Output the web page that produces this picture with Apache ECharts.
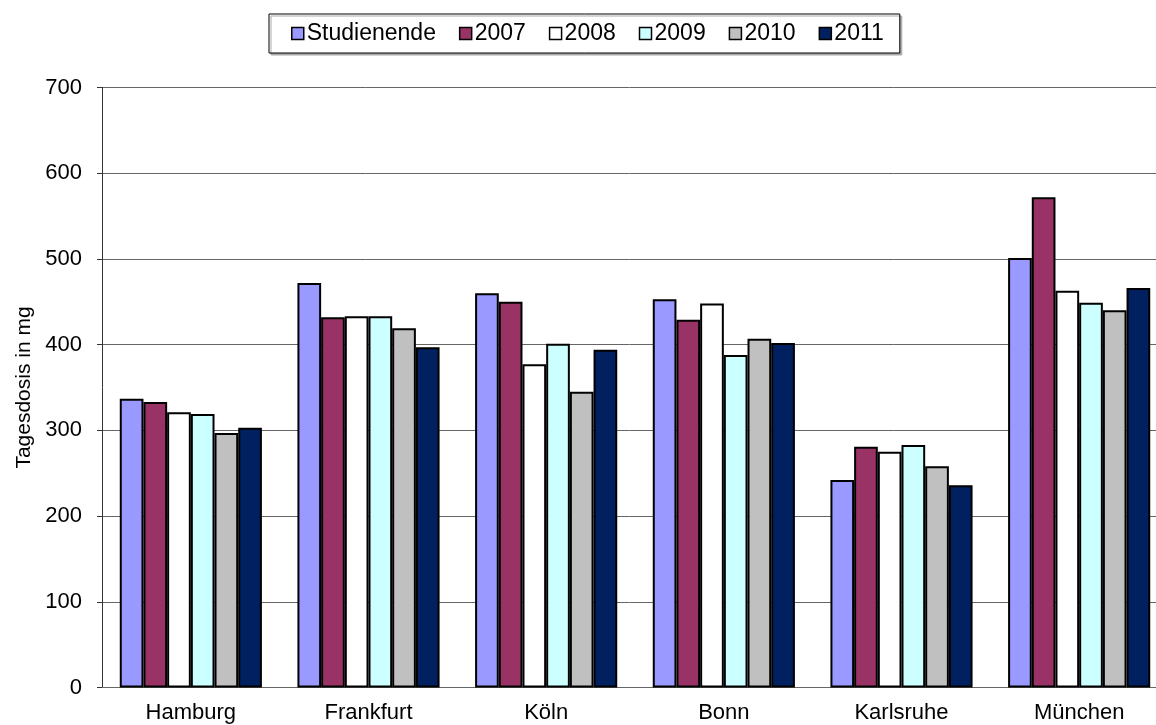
<!DOCTYPE html>
<html>
<head>
<meta charset="utf-8">
<title>Tagesdosis</title>
<style>
    html,body{margin:0;padding:0;background:#fff;}
    #main{width:1156px;height:725px;}
</style>
</head>
<body>
<div id="main"></div>
<script src="https://cdn.jsdelivr.net/npm/echarts@6/dist/echarts.min.js"></script>
<script>
    // Daten
    var staedte = ['Hamburg', 'Frankfurt', 'Köln', 'Bonn', 'Karlsruhe', 'München'];
    var studienende = [337, 472, 460, 453, 242, 501];
    var j2007 = [333, 432, 450, 429, 281, 572];
    var j2008 = [321, 433, 377, 448, 275, 463];
    var j2009 = [319, 433, 401, 388, 283, 449];
    var j2010 = [297, 419, 345, 407, 258, 440];
    var j2011 = [303, 397, 394, 402, 236, 466];

    var myChart = echarts.init(document.getElementById('main'));

    function bar(name, data, color) {
        return {
            name: name,
            type: 'bar',
            data: data,
            barGap: 0,
            barCategoryGap: '20%',
            itemStyle: {color: color, borderColor: '#000', borderWidth: 2},
            emphasis: {disabled: true}
        };
    }

    var option = {
        animation: false,
        textStyle: {fontFamily: 'Liberation Sans', color: '#000'},
        legend: {
            left: 269,
            top: 14,
            icon: 'rect',
            itemWidth: 12,
            itemHeight: 12,
            itemGap: 23,
            padding: [8, 16, 8, 22],
            borderColor: '#000',
            borderWidth: 1,
            backgroundColor: '#fff',
            shadowColor: '#aaa',
            shadowOffsetX: 2,
            shadowOffsetY: 2,
            itemStyle: {borderWidth: 1.5},
            textStyle: {fontSize: 23, color: '#000', padding: [0, 0, 0, -2]}
        },
        // Zeichenfläche reicht rechts etwas über den Rand hinaus
        grid: {left: 102, width: 1066, top: 87.5, bottom: 37.5, outerBoundsMode: 'none'},
        xAxis: {
            type: 'category',
            data: staedte,
            axisLine: {lineStyle: {color: '#666', width: 1}},
            axisTick: {length: 6, lineStyle: {color: '#555'}},
            axisLabel: {fontSize: 22, color: '#000', margin: 14}
        },
        yAxis: {
            type: 'value',
            min: 0,
            max: 700,
            interval: 100,
            name: 'Tagesdosis in mg',
            nameLocation: 'middle',
            nameGap: 67,
            nameTextStyle: {fontSize: 21, color: '#000'},
            axisLine: {show: true, lineStyle: {color: '#333'}},
            axisTick: {show: true, length: 5, lineStyle: {color: '#333'}},
            axisLabel: {fontSize: 22, color: '#000', margin: 20},
            splitLine: {lineStyle: {color: '#666', width: 1}}
        },
        series: [
            bar('Studienende', studienende, '#9999FF'),
            bar('2007', j2007, '#993366'),
            bar('2008', j2008, '#FFFFFF'),
            bar('2009', j2009, '#CCFFFF'),
            bar('2010', j2010, '#C0C0C0'),
            bar('2011', j2011, '#002060')
        ]
    };
    myChart.setOption(option);
</script>
</body>
</html>
